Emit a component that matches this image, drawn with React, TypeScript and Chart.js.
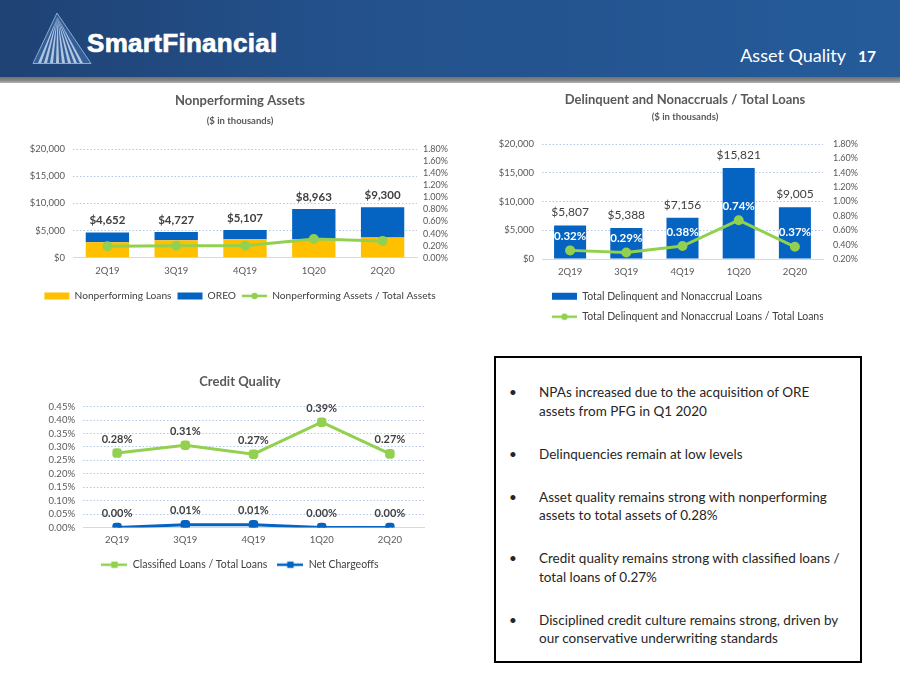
import React, { useEffect, useRef } from 'react';
import { Chart, registerables } from 'chart.js';

Chart.register(...registerables);

// ---------- data ----------
const quarters = ['2Q19', '3Q19', '4Q19', '1Q20', '2Q20'];

const npaTotal = [4652, 4727, 5107, 8963, 9300];
const npaLoans = [2850, 3220, 3400, 3400, 3750];
const npaToAssetsPct = [0.19, 0.2, 0.2, 0.31, 0.28];

const delinqTotal = [5807, 5388, 7156, 15821, 9005];
const delinqPct = [0.32, 0.29, 0.38, 0.74, 0.37];

const classifiedPct = [0.277, 0.306, 0.273, 0.392, 0.274];
const chargeoffPct = [0.0, 0.01, 0.01, 0.0, 0.0];

const dollarTicks = [0, 5000, 10000, 15000, 20000];

const bullets: string[][] = [
  ['NPAs increased due to the acquisition of ORE', 'assets from PFG in Q1 2020'],
  ['Delinquencies remain at low levels'],
  ['Asset quality remains strong with nonperforming', 'assets to total assets of 0.28%'],
  ['Credit quality remains strong with classified loans /', 'total loans of 0.27%'],
  ['Disciplined credit culture remains strong, driven by', 'our conservative underwriting standards'],
];

// ---------- styling ----------
const FONT = "Lato, 'Open Sans', sans-serif";
const YELLOW = '#FFC000';
const BLUE = '#0563C1';
const GREEN = '#92D050';
const AXIS_TEXT = '#595959';
const LEGEND_TEXT = '#404040';
const GRID = '#B4C7E7';

Chart.defaults.font.family = FONT;

const dollar = (v: number) => '$' + Number(v).toLocaleString('en-US');
const pct = (v: number) => Number(v).toFixed(2) + '%';

function lineIcon(color: string, width: number, r: number, square: boolean) {
  const c = document.createElement('canvas');
  c.width = width;
  c.height = 12;
  const ctx = c.getContext('2d')!;
  ctx.strokeStyle = color;
  ctx.lineWidth = 2.5;
  ctx.beginPath();
  ctx.moveTo(0, 6);
  ctx.lineTo(width, 6);
  ctx.stroke();
  ctx.fillStyle = color;
  ctx.beginPath();
  if (square) ctx.rect(width / 2 - r, 6 - r, 2 * r, 2 * r);
  else ctx.arc(width / 2, 6, r, 0, Math.PI * 2);
  ctx.fill();
  return c;
}

function legendLabels(iconWidth: number, squareMarkers: boolean, padding: number, size: number) {
  return {
    usePointStyle: true,
    pointStyleWidth: iconWidth,
    boxHeight: 7,
    color: LEGEND_TEXT,
    font: { size, family: FONT },
    padding,
    sort: (a: any, b: any) => a.datasetIndex - b.datasetIndex,
    generateLabels(chart: any) {
      const items = (Chart.defaults.plugins.legend.labels as any).generateLabels(chart);
      items.forEach((it: any) => {
        const ds = chart.data.datasets[it.datasetIndex];
        if (ds.type === 'line') {
          it.pointStyle = lineIcon(ds.borderColor, iconWidth, 3.2, squareMarkers);
        } else {
          it.pointStyle = 'rect';
          it.lineWidth = 0;
        }
      });
      return items;
    },
  };
}

const valueLabels = {
  id: 'valueLabels',
  afterDatasetsDraw(chart: any, _args: any, opts: any) {
    const ctx = chart.ctx;
    (opts.items || []).forEach((item: any) => {
      const meta = chart.getDatasetMeta(item.datasetIndex);
      meta.data.forEach((el: any, i: number) => {
        const { x, y } = el.getProps(['x', 'y'], true);
        ctx.save();
        ctx.font = item.font;
        ctx.fillStyle = item.color;
        ctx.textAlign = 'center';
        ctx.textBaseline = 'middle';
        ctx.fillText(item.texts[i], x, y - item.offset);
        ctx.restore();
      });
    });
  },
};

const tickFont = { size: 9.5, family: FONT };

function leftDollarAxis(width: number, stacked: boolean) {
  return {
    position: 'left',
    stacked,
    min: 0,
    max: 20000,
    afterBuildTicks: (s: any) => {
      s.ticks = dollarTicks.map((v) => ({ value: v }));
    },
    afterFit: (s: any) => {
      s.width = width;
    },
    ticks: { callback: (v: any) => dollar(v), color: AXIS_TEXT, font: tickFont, padding: 8, autoSkip: false },
    grid: {
      drawTicks: false,
      color: (c: any) => (c.tick && c.tick.value === 0 ? 'rgba(0,0,0,0)' : GRID),
      lineWidth: 1,
    },
    border: { display: false, dash: [1.5, 2] },
  };
}

function rightPctAxis(min: number, max: number, width: number, padding: number) {
  return {
    position: 'right',
    min,
    max,
    ticks: {
      stepSize: 0.2,
      autoSkip: false,
      callback: (v: any) => pct(v),
      color: AXIS_TEXT,
      font: { size: 9, family: FONT },
      padding,
    },
    afterFit: (s: any) => {
      s.width = width;
    },
    grid: { display: false, drawTicks: false },
    border: { display: false },
  };
}

function xAxis(height: number, stacked: boolean) {
  return {
    stacked,
    offset: true,
    afterFit: (s: any) => {
      s.height = height;
    },
    ticks: { color: AXIS_TEXT, font: tickFont, padding: 7 },
    grid: { display: false, drawTicks: false },
    border: { display: true, color: '#D9D9D9', width: 1 },
  };
}

function useChart(ref: React.RefObject<HTMLCanvasElement | null>, make: () => any) {
  useEffect(() => {
    if (!ref.current) return;
    const chart = new Chart(ref.current, make());
    return () => chart.destroy();
  }, []);
}

function NpaChart() {
  const ref = useRef<HTMLCanvasElement>(null);
  useChart(ref, () => ({
    type: 'bar',
    data: {
      labels: quarters,
      datasets: [
        {
          type: 'bar',
          label: 'Nonperforming Loans',
          data: npaLoans,
          backgroundColor: YELLOW,
          yAxisID: 'y',
          order: 1,
          barPercentage: 0.63,
          categoryPercentage: 1,
        },
        {
          type: 'bar',
          label: 'OREO',
          data: npaTotal.map((t, i) => t - npaLoans[i]),
          backgroundColor: BLUE,
          yAxisID: 'y',
          order: 1,
          barPercentage: 0.63,
          categoryPercentage: 1,
        },
        {
          type: 'line',
          label: 'Nonperforming Assets / Total Assets',
          data: npaToAssetsPct,
          borderColor: GREEN,
          backgroundColor: GREEN,
          borderWidth: 3,
          pointRadius: 3.5,
          pointStyle: 'circle',
          tension: 0,
          yAxisID: 'y1',
          order: 0,
        },
      ],
    },
    options: {
      responsive: false,
      animation: false,
      layout: { padding: 0 },
      scales: {
        x: xAxis(27, true),
        y: leftDollarAxis(53, true),
        y1: rightPctAxis(0, 1.8, 43, 6),
      },
      plugins: {
        title: {
          display: true,
          text: 'Nonperforming Assets',
          color: AXIS_TEXT,
          font: { size: 13, weight: 'bold', family: FONT },
          padding: { top: 7, bottom: 2 },
        },
        subtitle: {
          display: true,
          text: '($ in thousands)',
          color: AXIS_TEXT,
          font: { size: 9.5, weight: 'bold', family: FONT },
          padding: { top: 5, bottom: 22 },
        },
        legend: { position: 'bottom', labels: legendLabels(25, false, 6, 10.2) },
        tooltip: { enabled: false },
        valueLabels: {
          items: [
            {
              datasetIndex: 1,
              texts: npaTotal.map(dollar),
              font: `bold 11.5px ${FONT}`,
              color: LEGEND_TEXT,
              offset: 12,
            },
          ],
        },
      },
    },
    plugins: [valueLabels],
  }));
  return <canvas ref={ref} width={440} height={225} style={{ position: 'absolute', left: 20, top: 86, width: 440, height: 225 }} />;
}

function DelinqChart() {
  const ref = useRef<HTMLCanvasElement>(null);
  useChart(ref, () => ({
    type: 'bar',
    data: {
      labels: quarters,
      datasets: [
        {
          type: 'bar',
          label: 'Total Delinquent and Nonaccrual Loans',
          data: delinqTotal,
          backgroundColor: BLUE,
          yAxisID: 'y',
          order: 1,
          barPercentage: 0.57,
          categoryPercentage: 1,
        },
        {
          type: 'line',
          label: 'Total Delinquent and Nonaccrual Loans / Total Loans',
          data: delinqPct,
          borderColor: GREEN,
          backgroundColor: GREEN,
          borderWidth: 3,
          pointRadius: 3.5,
          pointStyle: 'circle',
          tension: 0,
          yAxisID: 'y1',
          order: 0,
        },
      ],
    },
    options: {
      responsive: false,
      animation: false,
      layout: { padding: 0 },
      scales: {
        x: xAxis(22, false),
        y: leftDollarAxis(62, false),
        y1: rightPctAxis(0.2, 1.8, 67, 10),
      },
      plugins: {
        title: {
          display: true,
          text: 'Delinquent and Nonaccruals / Total Loans',
          color: AXIS_TEXT,
          font: { size: 13, weight: 'bold', family: FONT },
          padding: { top: 6, bottom: 2 },
        },
        subtitle: {
          display: true,
          text: '($ in thousands)',
          color: AXIS_TEXT,
          font: { size: 9.5, weight: 'bold', family: FONT },
          padding: { top: 2, bottom: 21 },
        },
        legend: { position: 'bottom', align: 'start', fullSize: false, labels: legendLabels(25, false, 10, 10.5) },
        tooltip: { enabled: false },
        valueLabels: {
          items: [
            {
              datasetIndex: 0,
              texts: delinqTotal.map(dollar),
              font: `12px ${FONT}`,
              color: LEGEND_TEXT,
              offset: 13,
            },
            {
              datasetIndex: 1,
              texts: delinqPct.map(pct),
              font: `bold 11.5px ${FONT}`,
              color: '#FFFFFF',
              offset: 14,
            },
          ],
        },
      },
    },
    plugins: [valueLabels],
  }));
  return <canvas ref={ref} width={410} height={246} style={{ position: 'absolute', left: 480, top: 86, width: 410, height: 246 }} />;
}

function CreditChart() {
  const ref = useRef<HTMLCanvasElement>(null);
  useChart(ref, () => ({
    type: 'line',
    data: {
      labels: quarters,
      datasets: [
        {
          type: 'line',
          label: 'Classified Loans / Total Loans',
          data: classifiedPct,
          borderColor: GREEN,
          backgroundColor: GREEN,
          borderWidth: 3,
          pointRadius: 3.8,
          pointStyle: 'rectRounded',
          tension: 0,
        },
        {
          type: 'line',
          label: 'Net Chargeoffs',
          data: chargeoffPct,
          borderColor: BLUE,
          backgroundColor: BLUE,
          borderWidth: 3,
          pointRadius: 3.8,
          pointStyle: 'rectRounded',
          tension: 0,
        },
      ],
    },
    options: {
      responsive: false,
      animation: false,
      layout: { padding: 0 },
      scales: {
        x: xAxis(22, false),
        y: {
          min: 0,
          max: 0.45,
          ticks: { stepSize: 0.05, autoSkip: false, callback: (v: any) => pct(v), color: AXIS_TEXT, font: tickFont, padding: 8 },
          afterFit: (s: any) => {
            s.width = 63;
          },
          grid: {
            drawTicks: false,
            color: (c: any) => (c.tick && c.tick.value === 0 ? 'rgba(0,0,0,0)' : GRID),
          },
          border: { display: false, dash: [1.5, 2] },
        },
        yPad: {
          position: 'right',
          display: true,
          min: 0,
          max: 1,
          ticks: { display: false },
          grid: { display: false, drawTicks: false },
          border: { display: false },
          afterFit: (s: any) => {
            s.width = 36;
          },
        },
      },
      plugins: {
        title: {
          display: true,
          text: 'Credit Quality',
          color: AXIS_TEXT,
          font: { size: 13, weight: 'bold', family: FONT },
          padding: { top: 8, bottom: 17 },
        },
        legend: { position: 'bottom', labels: legendLabels(26, true, 10, 10.5) },
        tooltip: { enabled: false },
        valueLabels: {
          items: [
            {
              datasetIndex: 0,
              texts: classifiedPct.map(pct),
              font: `bold 11px ${FONT}`,
              color: LEGEND_TEXT,
              offset: 14,
            },
            {
              datasetIndex: 1,
              texts: chargeoffPct.map(pct),
              font: `bold 11px ${FONT}`,
              color: LEGEND_TEXT,
              offset: 14,
            },
          ],
        },
      },
    },
    plugins: [valueLabels],
  }));
  return <canvas ref={ref} width={440} height={214} style={{ position: 'absolute', left: 20, top: 366, width: 440, height: 214 }} />;
}

function Logo() {
  const rays: number[][] = [
    [38, 41],
    [44, 47],
    [50, 53],
    [56, 59],
    [62, 65],
    [68, 71],
    [74, 77],
    [80, 83],
  ];
  return (
    <svg width={100} height={77} style={{ position: 'absolute', left: 0, top: 0 }}>
      <polygon points="33,63.5 57,13 91,63.5" fill="#335f98" stroke="#8eabd2" strokeWidth={1} />
      {rays.map(([a, b], i) => (
        <polygon key={i} points={`57.5,17 ${a},63 ${b},63`} fill="#d3e0f2" opacity={0.8} />
      ))}
    </svg>
  );
}

function Header() {
  return (
    <>
      <div
        style={{
          position: 'absolute',
          left: 0,
          top: 0,
          width: 900,
          height: 77,
          background: 'linear-gradient(90deg, #1f4274 0%, #23508a 35%, #255b9a 100%)',
        }}
      />
      <div
        style={{
          position: 'absolute',
          left: 0,
          top: 77,
          width: 900,
          height: 6,
          background: 'linear-gradient(180deg, #6f6f6f 0%, #8a8a8a 60%, #b5b5b5 100%)',
        }}
      />
      <Logo />
      <div
        style={{
          position: 'absolute',
          left: 87,
          top: 28,
          color: '#ffffff',
          font: "bold 26px 'Liberation Sans', Arial, sans-serif",
          letterSpacing: 0.3,
          lineHeight: '30px',
          whiteSpace: 'nowrap',
          WebkitTextStroke: '0.7px #ffffff',
        }}
      >
        SmartFinancial
      </div>
      <div
        style={{
          position: 'absolute',
          right: 24,
          top: 45,
          color: '#ffffff',
          font: `18px ${FONT}`,
          lineHeight: '20px',
          whiteSpace: 'nowrap',
        }}
      >
        Asset Quality<span style={{ fontWeight: 'bold', fontSize: 15.5, marginLeft: 12 }}>17</span>
      </div>
    </>
  );
}

function TextBox() {
  return (
    <div
      style={{
        position: 'absolute',
        left: 494,
        top: 356,
        width: 368,
        height: 307,
        border: '2px solid #000',
        paddingTop: 25,
        boxSizing: 'border-box',
        fontFamily: FONT,
        fontSize: 13.5,
        lineHeight: '18.5px',
        color: '#262626',
      }}
    >
      {bullets.map((lines, i) => (
        <div key={i} style={{ position: 'relative', paddingLeft: 43, marginBottom: 24.5 }}>
          <span style={{ position: 'absolute', left: 13 }}>•</span>
          {lines.map((l, j) => (
            <div key={j} style={{ whiteSpace: 'nowrap' }}>
              {l}
            </div>
          ))}
        </div>
      ))}
    </div>
  );
}

export default function App() {
  return (
    <div style={{ position: 'absolute', left: 0, top: 0, width: 900, height: 675, background: '#fff', overflow: 'hidden' }}>
      <Header />
      <NpaChart />
      <DelinqChart />
      <CreditChart />
      <TextBox />
    </div>
  );
}
